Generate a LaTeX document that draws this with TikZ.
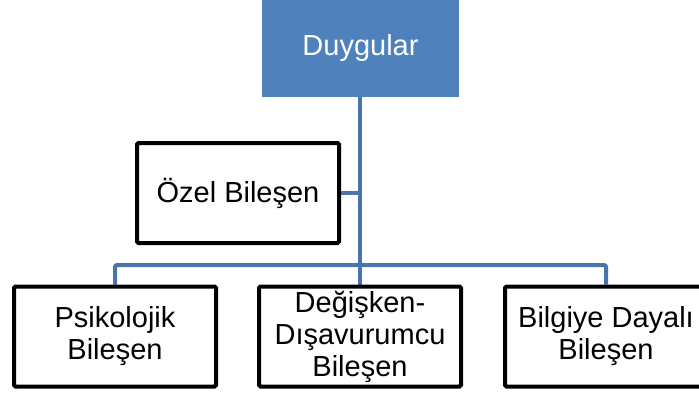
\documentclass[tikz,border=0pt]{standalone}
\usepackage{fontspec}
\setmainfont{Liberation Sans}
\usepackage{xcolor}
\definecolor{boxblue}{RGB}{79,129,189}
\definecolor{lineblue}{RGB}{74,116,172}
\usetikzlibrary{positioning, backgrounds}

\begin{document}
\begin{tikzpicture}[x=1pt, y=-1pt,
    box/.style={draw=black, line width=4pt, rounded corners=1.5pt, fill=white,
        minimum width=202pt, minimum height=100pt, align=center,
        inner sep=0pt, font=\fontsize{29}{32}\selectfont},
    conn/.style={draw=lineblue, line width=4pt, rounded corners=2pt}]
    \useasboundingbox (0,0) rectangle (699,394);
    \clip (0,0) rectangle (699,394);

    % Top box
    \node[fill=boxblue, text=white, minimum width=197pt, minimum height=99pt,
        font=\fontsize{29}{32}\selectfont] (duygu) at (360.5,47.5) {Duygular};

    % Boxes
    \node[box] (ozel) at (238,193) {Özel Bileşen};
    \node[box] (psiko) at (115,336.5) {Psikolojik\\Bileşen};
    \node[box] (degis) at (360,336.5) {Değişken-\\Dışavurumcu\\Bileşen};
    \node[box] (bilgi) at (606,336.5) {Bilgiye Dayalı\\Bileşen};
    \coordinate (bus) at (0,265);

    % Connectors
    \begin{scope}[on background layer]
        \draw[conn] (duygu.south -| degis.north) -- (degis.north);
        \draw[conn] (ozel.east) -- (ozel.east -| degis.north);
        \draw[conn] (psiko.north) |- (bus -| degis.north) -| (bilgi.north);
    \end{scope}
\end{tikzpicture}
\end{document}
